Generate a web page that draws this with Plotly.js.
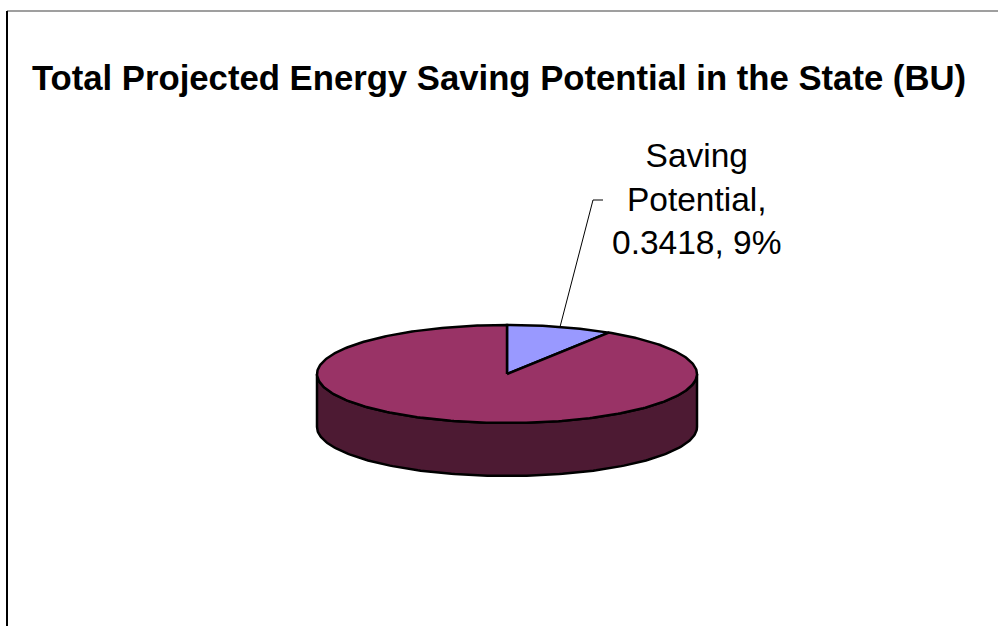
<!DOCTYPE html>
<html>
<head>
<meta charset="utf-8">
<script src="https://cdn.plot.ly/plotly-3.0.1.min.js"></script>
<style>html,body{margin:0;padding:0;background:#fff;}#chart{width:998px;height:626px;}</style>
</head>
<body>
<div id="chart"></div>
<script>
// ---- data ----
const categories = ["Saving Potential", "Projected Consumption"];
const values = [0.3418, 3.4562];
const topColors = ["#9999FF", "#993366"];
const sideColors = ["#4D4D80", "#4D1A33"];
const chartTitle = "Total Projected Energy Saving Potential in the State (BU)";

// ---- geometry (layout constants, pixels) ----
const W = 998, H = 626;
const cx = 507, cy = 374, rx = 190, ry = 49, depth = 53;
const rad = d => d * Math.PI / 180;
const px = a => cx + rx * Math.sin(rad(a));
const py = a => cy - ry * Math.cos(rad(a));

const total = values.reduce((s, v) => s + v, 0);
const slices = [];
let acc = 0;
values.forEach((v, i) => {
  const a0 = acc / total * 360;
  acc += v;
  const a1 = acc / total * 360;
  slices.push({i, a0, a1});
});

function arc(a0, a1, dy) {
  const xs = [], ys = [];
  const n = Math.max(2, Math.ceil(Math.abs(a1 - a0)));
  for (let k = 0; k <= n; k++) {
    const a = a0 + (a1 - a0) * k / n;
    xs.push(px(a)); ys.push(py(a) + dy);
  }
  return [xs, ys];
}

const traces = [];
// side walls (front half 90..270)
slices.forEach(s => {
  const lo = Math.max(s.a0, 90), hi = Math.min(s.a1, 270);
  if (hi > lo) {
    const [tx, ty] = arc(lo, hi, 0);
    const [bx, by] = arc(hi, lo, depth);
    traces.push({
      x: tx.concat(bx, [tx[0]]), y: ty.concat(by, [ty[0]]),
      type: "scatter", mode: "lines", fill: "toself",
      fillcolor: sideColors[s.i], line: {color: "#000", width: 2.5},
      hoverinfo: "skip", showlegend: false
    });
  }
});
// top faces
slices.forEach(s => {
  const [ax, ay] = arc(s.a0, s.a1, 0);
  traces.push({
    x: [cx].concat(ax, [cx]), y: [cy].concat(ay, [cy]),
    type: "scatter", mode: "lines", fill: "toself",
    fillcolor: topColors[s.i], line: {color: "#000", width: 2.5},
    hoverinfo: "skip", showlegend: false, name: categories[s.i]
  });
});

// label for first slice
const s0 = slices[0];
const mid = (s0.a0 + s0.a1) / 2;
const pct = Math.round(values[0] / total * 100);
const labelText = categories[0].replace(" ", "<br>") + ",<br>" + values[0] + ", " + pct + "%";
const elbowX = 593, elbowY = 200, endX = 603;
traces.push({
  x: [px(mid), elbowX, endX], y: [py(mid), elbowY, elbowY],
  type: "scatter", mode: "lines", line: {color: "#000", width: 1},
  hoverinfo: "skip", showlegend: false
});

const layout = {
  width: W, height: H,
  margin: {l: 0, r: 0, t: 0, b: 0},
  paper_bgcolor: "#fff", plot_bgcolor: "#fff",
  xaxis: {range: [0, W], visible: false, fixedrange: true},
  yaxis: {range: [H, 0], visible: false, fixedrange: true},
  title: {
    text: "<b>" + chartTitle + "</b>",
    font: {family: "Liberation Sans, Arial, sans-serif", size: 34.7, color: "#000"},
    x: 0.5, xanchor: "center", xref: "paper",
    y: 1 - 78 / H, yanchor: "middle", yref: "container"
  },
  annotations: [{
    x: 697, y: 199, xref: "x", yref: "y",
    text: labelText, showarrow: false, align: "center",
    xanchor: "center", yanchor: "middle",
    font: {family: "Liberation Sans, Arial, sans-serif", size: 33.5, color: "#000"}
  }],
  shapes: [
    {type: "line", xref: "x", yref: "y", x0: 7, x1: W, y0: 11, y1: 11, line: {color: "#7f7f7f", width: 1.5}},
    {type: "line", xref: "x", yref: "y", x0: 7, x1: 7, y0: 11, y1: H, line: {color: "#000", width: 2}}
  ]
};

Plotly.newPlot("chart", traces, layout, {displayModeBar: false, staticPlot: true});
</script>
</body>
</html>
